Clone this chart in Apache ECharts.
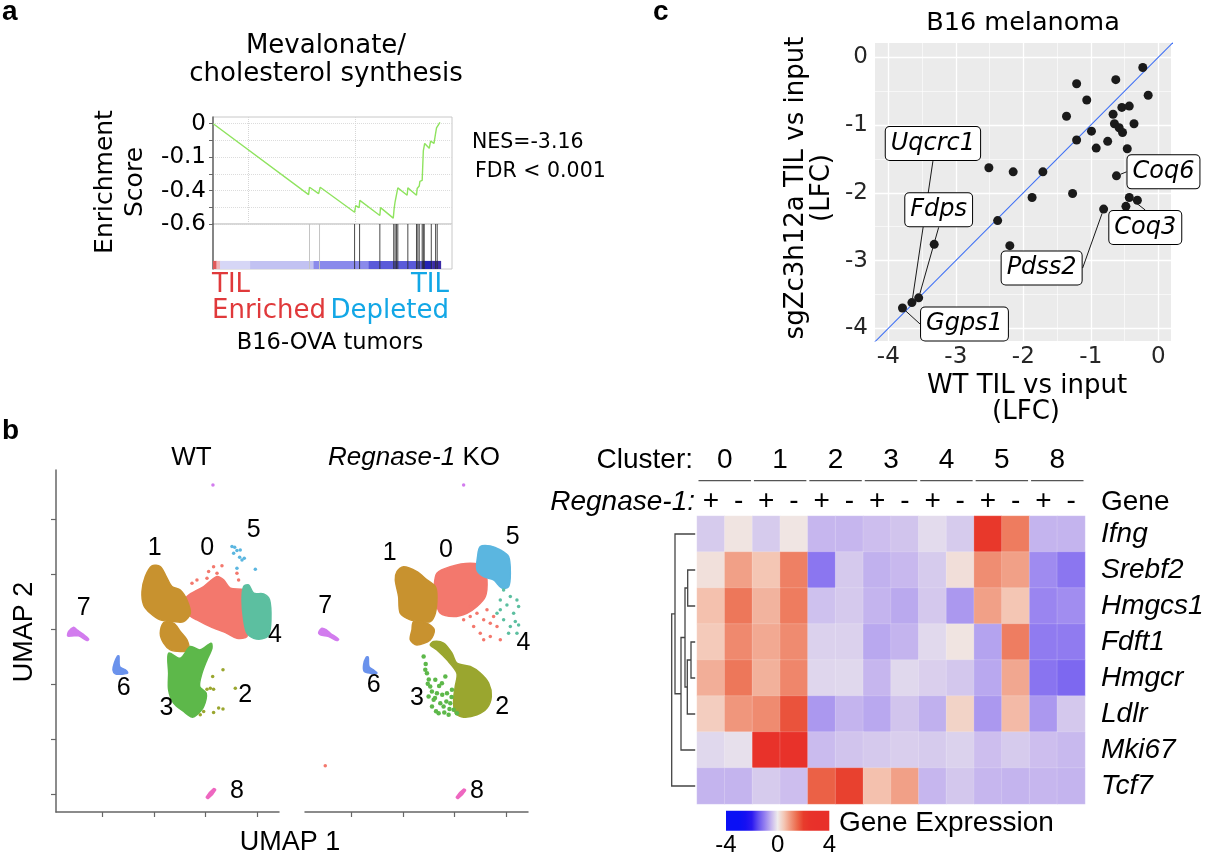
<!DOCTYPE html>
<html><head><meta charset="utf-8">
<script src="https://cdn.jsdelivr.net/npm/echarts@6/dist/echarts.min.js"></script>
<style>html,body{margin:0;padding:0;background:#fff}#c{width:1208px;height:856px}</style>
</head><body><div id="c"></div>
<script>
// ================= DATA =================
// Panel a : GSEA running enrichment score (gene rank in % of list, ES)
const esRank  = [0.1, 42.0, 42.4, 46.4, 47.1, 62.2, 62.7, 64.2, 64.5, 73.3, 73.6, 79.2, 79.6, 80.0, 81.2, 85.3, 85.6, 89.4, 89.7, 90.6, 90.9, 91.9, 92.4, 93.0, 95.0, 95.6, 97.1, 97.7, 98.2, 99.7];
const esScore = [0, -0.424, -0.38, -0.418, -0.38, -0.53, -0.49, -0.502, -0.459, -0.549, -0.502, -0.565, -0.506, -0.467, -0.384, -0.428, -0.384, -0.428, -0.388, -0.373, -0.345, -0.339, -0.163, -0.118, -0.147, -0.104, -0.118, -0.065, -0.025, 0.008];
const hitRanks = [42.4, 46.8, 62.2, 64.4, 73.3, 79.4, 80.0, 80.6, 81.2, 85.6, 89.4, 90.0, 90.6, 91.9, 92.4, 92.8, 95.9, 97.8, 98.5];
const rankBarBreaks = [0, 1.5, 3.1, 16.3, 44.2, 68.4, 91.9, 96.3, 100];
const rankBarColors = ['#e05a5a', '#efb6bb', '#d6d6f6', '#c2c2f2', '#8a8aeb', '#5a5ad9', '#2424b5', '#3a2aa5'];
const esTickValues = [0, -0.2, -0.4, -0.6];
const esTickLabels = ['0', '-0.1', '-0.4', '-0.6'];
const esGridRanks = [15.5, 62.6];

// Panel c : LFC scatter
const wtTilLFC = [-0.23,-0.15,-0.63,-1.21,-1.06,-1.36,-0.67,-0.54,-0.43,-0.65,-0.58,-0.53,-0.36,-0.99,-1.21,-0.75,-0.92,-0.46,-2.51,-2.15,-1.71,-0.62,-1.27,-1.87,-0.81,-0.43,-0.31,-0.48,-2.38,-2.20,-3.32,-3.55,-3.65,-3.79];
const sgTilLFC = [-0.15,-0.56,-0.33,-0.39,-0.63,-0.87,-0.84,-0.74,-0.72,-0.98,-1.04,-1.11,-0.98,-1.09,-1.22,-1.24,-1.34,-1.35,-1.63,-1.69,-1.69,-1.75,-2.01,-2.07,-2.24,-2.07,-2.11,-2.20,-2.41,-2.78,-2.76,-3.55,-3.62,-3.70];
const geneLabels = ['','','','','','','','','','','','','','','','','','','','','','Coq6','','','Pdss2','Coq3','','','','','','Fdps','Uqcrc1','Ggps1'];
const lfcTicks = [-4, -3, -2, -1, 0];
const lfcMinor = [-3.5, -2.5, -1.5, -0.5];

// Panel b : heatmap
const clusters = ['0','1','2','3','4','5','8'];
const regnaseStatus = ['+','-'];
const genes = ['Ifng','Srebf2','Hmgcs1','Fdft1','Hmgcr','Ldlr','Mki67','Tcf7'];
const exprIfng   = [-0.3, 0.1, -0.3, 0.08, -0.5, -0.5, -0.42, -0.37, -0.15, -0.3, 2.2, 1.3, -0.52, -0.52];
const exprSrebf2 = [0.15, 0.9, 0.5, 1.25, -1.1, -0.32, -0.55, -0.48, -0.3, 0.17, 1.1, 0.9, -0.9, -1.1];
const exprHmgcs1 = [0.55, 1.35, 0.7, 1.3, -0.4, -0.32, -0.52, -0.62, -0.33, -0.78, 0.9, 0.5, -0.95, -0.88];
const exprFdft1  = [0.45, 1.15, 0.8, 1.12, -0.25, -0.25, -0.63, -0.52, -0.17, 0.1, -0.68, 1.28, -1.05, -1.05];
const exprHmgcr  = [0.75, 1.35, 0.72, 1.18, -0.2, -0.18, -0.5, -0.18, -0.26, -0.34, -0.63, 0.82, -1.12, -1.25];
const exprLdlr   = [0.4, 1.0, 1.12, 1.75, -0.78, -0.52, -0.63, -0.37, -0.56, 0.33, -0.78, 0.62, -0.78, -0.33];
const exprMki67  = [-0.18, -0.1, 2.6, 2.6, -0.45, -0.37, -0.32, -0.27, -0.3, -0.24, -0.42, -0.3, -0.42, -0.47];
const exprTcf7   = [-0.52, -0.52, -0.3, -0.42, 1.6, 1.95, 0.55, 0.9, -0.5, -0.34, -0.5, -0.52, -0.5, -0.52];
const exprRows = [exprIfng, exprSrebf2, exprHmgcs1, exprFdft1, exprHmgcr, exprLdlr, exprMki67, exprTcf7];
const legendTicks = [-4, 0, 4];
// dendrogram (hclust style merge: negative = leaf row, positive = earlier merge)
const dendroMerge  = [[-2,-3],[-4,-5],[2,-6],[1,3],[4,-7],[-1,5],[6,-8]];
const dendroHeight = [8.3, 5, 8.7, 11, 15, 21, 24.3];

// Panel b : UMAP cluster outlines / sparse cells (UMAP units)
const wtC0 = [[-1.81,2.94],[-0.19,3.85],[1.10,4.76],[1.74,4.45],[2.39,3.70],[3.68,3.54],[4.0,2.94],[3.84,0.51],[4.0,-0.70],[3.03,-0.85],[2.06,-0.40],[0.45,0.21],[-0.84,0.82],[-1.65,1.27],[-1.97,2.18]];
const wtC0dots = [[0.77,5.66],[1.58,5.73],[0.29,5.21],[1.10,5.06],[-0.84,4.45],[-1.32,4.15],[3.03,5.06],[3.19,4.45],[1.58,3.85],[0.13,4.61]];
const wtC1 = [[-5.19,5.73],[-4.39,5.66],[-3.81,4.76],[-3.26,3.85],[-2.45,3.54],[-1.81,2.63],[-1.48,1.42],[-2.13,0.66],[-3.10,0.66],[-4.39,0.82],[-5.35,1.42],[-6.0,2.18],[-6.16,3.39],[-5.84,4.76]];
const wtC1b = [[-4.06,0.57],[-3.10,0.51],[-2.45,-0.24],[-1.81,-1.0],[-1.65,-1.91],[-2.45,-2.06],[-3.42,-1.91],[-4.06,-1.30],[-4.39,-0.40]];
const wtC2dots = [[1.68,-3.73],[0.68,-4.34],[0.45,-5.40],[0.77,-5.49],[2.87,-5.40],[-0.19,-7.52],[0.77,-7.61],[1.26,-7.21],[1.68,-7.30],[-0.52,-7.82],[0.13,-5.49]];
const wtC3 = [[-3.58,-2.21],[-2.45,-2.67],[-1.48,-1.61],[-0.52,-1.91],[0.52,-1.30],[0.61,-1.76],[0.13,-2.82],[-0.35,-4.03],[-0.58,-5.24],[0.06,-5.85],[-0.19,-7.06],[-0.84,-7.82],[-1.32,-8.03],[-2.13,-7.52],[-3.10,-6.76],[-3.58,-5.55],[-3.58,-4.03]];
const wtC4 = [[3.68,3.85],[4.16,4.0],[4.65,3.24],[5.61,3.18],[6.19,2.63],[6.32,0.82],[6.1,-0.55],[5.45,-0.91],[4.65,-0.85],[4.0,-0.40],[3.68,0.82],[3.52,2.63]];
const wtC5dots = [[2.55,7.48],[2.81,7.42],[3.03,7.12],[3.29,6.51],[3.74,6.42],[3.35,7.18],[2.71,6.88],[4.81,5.42],[3.03,5.51],[3.52,6.27]];
const wtC6 = [[-8.52,-2.46],[-8.39,-2.46],[-8.32,-3.43],[-7.77,-3.73],[-7.55,-4.03],[-8.10,-4.12],[-8.74,-4.09],[-8.97,-3.73],[-8.84,-3.12]];
const wtC7 = [[-13.26,-0.24],[-12.77,0.15],[-12.45,-0.09],[-11.97,-0.40],[-11.32,-0.94],[-11.48,-1.06],[-12.29,-0.64],[-12.94,-0.64],[-13.35,-0.64]];
const wtC7dots = [[0.71,13.09]];
const wtC8 = [[0.06,-15.30],[0.77,-14.52],[0.97,-14.64],[0.26,-15.43]];

const koC0 = [[-1.71,5.06],[-0.42,5.66],[1.51,5.97],[2.81,5.66],[3.13,4.45],[2.97,2.94],[2.16,2.03],[1.19,1.42],[-0.10,1.12],[-1.39,1.42],[-1.87,2.63],[-1.97,3.85]];
const koC0dots = [[1.51,2.03],[2.16,1.42],[2.81,0.82],[3.45,0.51],[4.10,0.21],[2.48,-0.40],[3.45,-0.70],[1.51,1.12],[0.87,0.82],[4.42,-1.0],[3.13,1.73],[3.77,1.12],[1.84,0.21],[2.81,-1.0],[-12.52,-12.46]];
const koC1 = [[-4.94,5.66],[-3.65,5.21],[-2.68,4.45],[-1.87,3.85],[-1.71,2.94],[-1.87,1.42],[-2.36,0.66],[-3.16,0.66],[-4.29,0.82],[-5.26,1.42],[-5.42,2.94],[-5.74,4.45],[-5.58,5.21]];
const koC1b = [[-3.97,0.66],[-2.68,0.51],[-1.97,-0.09],[-2.36,-1.0],[-3.65,-1.46],[-4.29,-1.0],[-4.13,-0.09]];
const koC2 = [[0.22,-3.12],[1.51,-3.43],[2.48,-4.03],[3.29,-4.94],[3.55,-6.15],[3.13,-7.21],[2.16,-7.82],[0.87,-8.03],[0.06,-7.67],[-0.10,-6.46],[0.06,-5.24],[0.22,-4.03],[-0.74,-2.82],[-1.71,-1.91],[-2.36,-1.46],[-2.03,-1.15],[-1.07,-1.30],[-0.26,-2.21]];
const koC3dots = [[-3.0,-2.52],[-2.84,-3.73],[-2.68,-4.03],[-2.36,-5.24],[-1.87,-4.64],[-1.71,-5.85],[-1.39,-6.76],[-1.07,-7.06],[-0.42,-6.76],[-0.10,-7.36],[-0.74,-5.85],[-1.23,-4.94],[-2.03,-6.46],[-1.55,-7.67],[-0.26,-5.55],[-0.90,-4.33],[-2.52,-6.15],[-0.58,-7.82],[0.22,-7.67],[-2.19,-7.06],[-2.8,-3.2],[-2.5,-4.6],[-2.2,-5.7],[-1.9,-6.3],[-1.5,-5.2],[-1.2,-6.0],[-0.8,-6.6],[-0.5,-7.3],[-1.8,-7.5],[-2.6,-5.0],[-0.3,-6.2],[-1.0,-7.6]];
const koC4dots = [[4.74,3.54],[5.39,2.94],[6.03,2.63],[6.19,2.03],[5.06,2.18],[4.42,1.73],[5.71,1.42],[5.87,0.66],[4.74,0.82],[5.39,0.21],[6.19,0.36],[5.22,-0.40],[4.42,2.63],[4.10,1.42],[6.03,-0.40]];
const koC5 = [[2.48,7.48],[3.45,7.54],[4.42,7.18],[5.22,6.57],[5.39,5.06],[5.22,3.85],[4.58,3.70],[3.77,4.45],[2.81,4.76],[2.16,5.36],[2.22,6.57]];
const koC6 = [[-8.55,-2.58],[-8.36,-2.58],[-8.29,-3.43],[-7.78,-3.79],[-7.52,-4.03],[-8.16,-4.03],[-8.74,-3.88],[-8.81,-3.27]];
const koC7 = [[-13.16,-0.34],[-12.84,0.06],[-12.42,-0.09],[-12.03,-0.40],[-11.23,-0.94],[-11.39,-1.06],[-12.19,-0.70],[-13.0,-0.55]];
const koC7dots = [[0.87,13.09]];
const koC8 = [[0.16,-15.30],[0.87,-14.58],[1.06,-14.70],[0.35,-15.43]];

const wtClusterLabels = [['1',-4.94,7.34],['0',0.14,7.34],['5',4.65,9.0],['7',-11.81,1.88],['4',6.7,-0.6],['6',-7.94,-5.39],['3',-3.80,-7.21],['2',3.84,-6.0],['8',3.04,-14.79]];
const koClusterLabels = [['1',-6.29,6.88],['0',-0.83,7.18],['5',5.63,8.39],['7',-12.52,2.03],['4',6.67,-1.3],['6',-7.84,-5.09],['3',-3.64,-6.3],['2',4.6,-7.12],['8',2.17,-14.79]];
const umapTicksX = [-10, -5, 0, 5];
const umapTicksY = [-15, -10, -5, 0, 5, 10];

// ================= STYLE / LAYOUT =================
const FA = 'DejaVu Sans', FH = 'Liberation Sans';
const clusterColors = ['#F3786D','#C8922F','#9AA62F','#5DB84A','#5CBFA0','#5BB6E0','#6A92EC','#D27CEE','#EE67C0'];
const exprColors = ['#0a10f5','#0a10f5','#0a10f5','#1510f2','#2a18f0','#6450f0','#9580f0','#c6b6ee','#efebec','#f4c6b4','#f0967c','#ec6a4c','#e83c2c','#e8322a','#e8302a','#e8302a','#e8302a'];
const labelOffsets = {Uqcrc1:[21,-159], Fdps:[20,-88], Ggps1:[62,16], Pdss2:[-62,59], Coq6:[47,-4], Coq3:[16,30]};

const chart = echarts.init(document.getElementById('c'), null, {width:1208, height:856});

const series = [];
// ---- panel a
series.push({type:'line', xAxisIndex:0, yAxisIndex:0, silent:true, symbol:'none', z:5,
  data: esRank.map((r,i)=>[r, esScore[i]]), lineStyle:{color:'#8fe35f', width:1.4},
  markLine:{silent:true, symbol:'none', z:1, label:{show:false}, lineStyle:{type:'dotted', color:'#d6d6d6', width:1},
    data: esGridRanks.map(r=>({xAxis:r}))}});
series.push({type:'custom', xAxisIndex:1, yAxisIndex:1, silent:true,
  data: rankBarColors.map((c,i)=>[rankBarBreaks[i], rankBarBreaks[i+1]]), encode:{x:[0,1]},
  renderItem:(p, api)=>{ const a=api.coord([api.value(0),0]); const b=api.coord([api.value(1),0.18]);
    return {type:'rect', shape:{x:a[0], y:b[1], width:b[0]-a[0]+0.5, height:a[1]-b[1]}, style:{fill:rankBarColors[p.dataIndex]}}; }});
series.push({type:'custom', xAxisIndex:1, yAxisIndex:1, silent:true, z:4,
  data: hitRanks.map(r=>[r]), encode:{x:0},
  renderItem:(p, api)=>{ const r=api.value(0); const a=api.coord([r,0]); const b=api.coord([r,1]);
    return {type:'line', shape:{x1:a[0],y1:a[1],x2:b[0],y2:b[1]}, style:{stroke:r<50?'#c4c4c4':'#2a2a2a', lineWidth:1, opacity:r<50?1:0.85}}; }});
// ---- panel c
const gridLines = [];
lfcTicks.forEach(v=>{ gridLines.push({xAxis:v, lineStyle:{color:'#fff', width:1.3, type:'solid'}}); gridLines.push({yAxis:v, lineStyle:{color:'#fff', width:1.3, type:'solid'}}); });
lfcMinor.forEach(v=>{ gridLines.push({xAxis:v, lineStyle:{color:'#fff', width:0.6, type:'solid'}}); gridLines.push({yAxis:v, lineStyle:{color:'#fff', width:0.6, type:'solid'}}); });
series.push({type:'line', xAxisIndex:2, yAxisIndex:2, silent:true, symbol:'none', data:[[-2,-2]], z:1,
  lineStyle:{opacity:0}, markLine:{silent:true, symbol:'none', z:1, label:{show:false}, lineStyle:{type:'solid'}, data:gridLines}});
series.push({type:'line', xAxisIndex:2, yAxisIndex:2, silent:true, symbol:'none', data:[[-4.5,-4.5],[0.5,0.5]], z:6,
  lineStyle:{color:'#3d6ff5', width:1.1}});
series.push({type:'scatter', xAxisIndex:2, yAxisIndex:2, silent:true, symbolSize:9, z:10,
  itemStyle:{color:'#1a1a1a', opacity:1},
  data: wtTilLFC.map((x,i)=>({value:[x, sgTilLFC[i]], name:geneLabels[i], label:{show:geneLabels[i]!==''}})),
  label:{show:false, position:'inside', formatter:'{b}', fontFamily:FA, fontStyle:'italic', fontSize:24, color:'#000',
    backgroundColor:'#fff', borderColor:'#000', borderWidth:1, borderRadius:4, padding:[5,5,4,5]},
  labelLine:{show:true, lineStyle:{color:'#000', width:0.9, opacity:1}},
  labelLayout:(params)=>{ const n=geneLabels[params.dataIndex]; if(!n) return {}; const o=labelOffsets[n]; return {dx:o[0], dy:o[1]}; }});
// ---- panel b umap
function polySeries(xi, yi, pts, color){
  return {type:'custom', xAxisIndex:xi, yAxisIndex:yi, silent:true, data:pts,
    renderItem:(p, api)=>{ if(p.dataIndex!==0) return null;
      return {type:'polygon', shape:{points:pts.map(q=>api.coord(q)), smooth:0.3}, style:{fill:color, stroke:color, lineWidth:1.5}}; }};
}
function dotSeries(xi, yi, pts, color, size){
  return {type:'scatter', xAxisIndex:xi, yAxisIndex:yi, silent:true, data:pts, symbolSize:size||3.5, itemStyle:{color:color, opacity:1}};
}
function labelSeries(xi, yi, labs){
  return {type:'scatter', xAxisIndex:xi, yAxisIndex:yi, silent:true, symbolSize:0, z:8,
    data: labs.map(l=>({value:[l[1],l[2]], name:l[0]})),
    label:{show:true, position:'inside', formatter:'{b}', fontFamily:FH, fontSize:25, color:'#000', opacity:1, textBorderWidth:0}};
}
const C = clusterColors;
series.push(polySeries(3,3,wtC0,C[0]), dotSeries(3,3,wtC0dots,C[0]), polySeries(3,3,wtC4,C[4]),
  polySeries(3,3,wtC1,C[1]), polySeries(3,3,wtC1b,C[1]), polySeries(3,3,wtC3,C[3]), dotSeries(3,3,wtC2dots,C[2]),
  dotSeries(3,3,wtC5dots,C[5]), polySeries(3,3,wtC6,C[6]), polySeries(3,3,wtC7,C[7]), dotSeries(3,3,wtC7dots,C[7]),
  polySeries(3,3,wtC8,C[8]), labelSeries(3,3,wtClusterLabels));
series.push(polySeries(4,4,koC0,C[0]), dotSeries(4,4,koC0dots,C[0]), polySeries(4,4,koC5,C[5]), dotSeries(4,4,koC4dots,C[4]),
  polySeries(4,4,koC1,C[1]), polySeries(4,4,koC1b,C[1]), dotSeries(4,4,koC3dots,C[3],4.5), polySeries(4,4,koC2,C[2]),
  polySeries(4,4,koC6,C[6]), polySeries(4,4,koC7,C[7]), dotSeries(4,4,koC7dots,C[7]),
  polySeries(4,4,koC8,C[8]), labelSeries(4,4,koClusterLabels));
// ---- panel b heatmap
const heatData = [];
exprRows.forEach((row, r)=>row.forEach((v, c)=>heatData.push([c, r, v])));
const heatIndex = series.length;
series.push({type:'heatmap', xAxisIndex:5, yAxisIndex:5, silent:true, data:heatData,
  itemStyle:{borderColor:'rgba(255,255,255,0.35)', borderWidth:0.5}, emphasis:{disabled:true}});
series.push({type:'custom', xAxisIndex:5, yAxisIndex:5, silent:true,
  data: clusters.map((c,k)=>[2*k, 0]),
  renderItem:(p, api)=>{ const c0=api.coord([api.value(0),0]); const w=api.size([1,0])[0]; const y=p.coordSys.y-35.4;
    return {type:'line', shape:{x1:c0[0]-w/2+1.5, y1:y, x2:c0[0]+w*1.5-1.5, y2:y}, style:{stroke:'#555', lineWidth:1.2}}; }});
const dNodes = [];
const leafH = 0.8;
const dPos = k => k<0 ? [-k-1, leafH] : dNodes[k-1];
const dendroLines = dendroMerge.map((m,i)=>{ const a=dPos(m[0]), b=dPos(m[1]), h=dendroHeight[i];
  dNodes.push([(a[0]+b[0])/2, h]); return {coords:[[a[1],a[0]],[h,a[0]],[h,b[0]],[b[1],b[0]]]}; });
series.push({type:'lines', coordinateSystem:'cartesian2d', xAxisIndex:7, yAxisIndex:6, polyline:true, silent:true,
  data:dendroLines, lineStyle:{color:'#444', width:1.3, opacity:1}});

// ---- graphics (titles / annotations)
function T(text, x, y, o){ o=o||{};
  return {type:'text', x:x, y:y, rotation:o.rot||0, silent:true, z:100,
    style:{text:text, fontFamily:o.ff||FH, fontSize:o.fs||26, fontWeight:o.fw||'normal', fontStyle:o.it?'italic':'normal',
      fill:o.c||'#000', align:o.al||'center', verticalAlign:'middle', rich:o.rich}}; }
const lgX=726, lgW=103.3, lgY=810.7, lgH=20;
const graphics = [
  T('a', 2, 12, {fs:28, fw:'bold', al:'left'}), T('b', 2, 431, {fs:28, fw:'bold', al:'left'}), T('c', 653, 12, {fs:28, fw:'bold', al:'left'}),
  T('Mevalonate/', 326, 46, {ff:FA}), T('cholesterol synthesis', 326, 74, {ff:FA}),
  T('Enrichment', 105, 182, {ff:FA, fs:25, rot:Math.PI/2}), T('Score', 135, 182, {ff:FA, fs:25, rot:Math.PI/2}),
  T('NES=-3.16', 472, 143, {ff:FA, fs:20.5, al:'left'}), T('FDR < 0.001', 475, 172, {ff:FA, fs:20.5, al:'left'}),
  T('TIL', 212, 285, {ff:FA, fs:26, al:'left', c:'#e0393b'}), T('TIL', 449, 285, {ff:FA, fs:26, al:'right', c:'#12a7e6'}),
  T('Enriched', 212, 311, {ff:FA, fs:26, al:'left', c:'#e0393b'}), T('Depleted', 449, 311, {ff:FA, fs:26, al:'right', c:'#12a7e6'}),
  T('B16-OVA tumors', 330, 343, {ff:FA, fs:22.5}),
  T('B16 melanoma', 1023, 23, {ff:FA, fs:25.5}),
  T('sgZc3h12a TIL vs input', 796, 188, {ff:FA, fs:26, rot:Math.PI/2}), T('(LFC)', 822, 188, {ff:FA, fs:26, rot:Math.PI/2}),
  T('WT TIL vs input', 1027, 386, {ff:FA, fs:26}), T('(LFC)', 1026, 412, {ff:FA, fs:26}),
  T('WT', 191.5, 458, {fs:26}),
  T('{i|Regnase-1} KO', 414, 458, {fs:26, rich:{i:{fontStyle:'italic', fontFamily:FH, fontSize:26}}}),
  T('UMAP 2', 25, 632, {fs:27, rot:Math.PI/2}), T('UMAP 1', 290, 843, {fs:27}),
  T('Cluster:', 693, 460, {fs:28, al:'right'}), T('Regnase-1:', 695, 502, {fs:28, al:'right', it:true}),
  T('Gene', 1101, 502, {fs:28, al:'left'}),
  {type:'rect', silent:true, shape:{x:lgX, y:lgY, width:lgW, height:lgH},
    style:{fill:new echarts.graphic.LinearGradient(0,0,1,0, exprColors.map((c,i)=>({offset:i/(exprColors.length-1), color:c})))}},
  T('Gene Expression', 839, 823, {fs:28, al:'left'})
];
legendTicks.forEach(v=>graphics.push(T(String(v), lgX + (v+4)/8*lgW, 845, {fs:24})));

const umapX = gi => ({gridIndex:gi, type:'value', min:-14.48, max:7.1,
  axisLine:{show:true, onZero:false, lineStyle:{color:'#666', width:1.5}},
  axisTick:{show:true, customValues:umapTicksX, length:5, lineStyle:{color:'#666', width:1.2}},
  axisLabel:{show:false}, splitLine:{show:false}});

const option = {
  animation:false,
  textStyle:{fontFamily:FH},
  grid:[
    {left:213, top:117, width:239, height:107, show:true, borderColor:'#c8c8c8', borderWidth:1},
    {left:213, top:224, width:239, height:45, show:true, borderColor:'#c8c8c8', borderWidth:1},
    {left:875, top:43, width:296, height:298, show:true, backgroundColor:'#ebebeb', borderWidth:0},
    {left:56, top:470, width:223, height:342},
    {left:305, top:470, width:223, height:342},
    {left:697, top:516, width:388, height:288},
    {left:671, top:516, width:25, height:288}
  ],
  xAxis:[
    {gridIndex:0, type:'value', min:0, max:105, axisLine:{show:false}, axisTick:{show:false}, axisLabel:{show:false}, splitLine:{show:false}},
    {gridIndex:1, type:'value', min:0, max:105, axisLine:{show:false}, axisTick:{show:false}, axisLabel:{show:false}, splitLine:{show:false}},
    {gridIndex:2, type:'value', min:-4.197, max:0.188, axisLine:{show:false},
      axisTick:{show:true, customValues:lfcTicks, length:4, lineStyle:{color:'#333'}},
      axisLabel:{customValues:lfcTicks, margin:5, fontFamily:FA, fontSize:23, color:'#262626'}, splitLine:{show:false}},
    umapX(3), umapX(4),
    {gridIndex:5, type:'category', data:clusters.flatMap(()=>regnaseStatus), position:'top',
      axisLine:{show:false}, axisTick:{show:false}, splitLine:{show:false},
      axisLabel:{interval:0, margin:1, fontFamily:FH, fontSize:28, color:'#000'}},
    {gridIndex:5, type:'category', data:clusters, position:'top', offset:42,
      axisLine:{show:false}, axisTick:{show:false}, splitLine:{show:false},
      axisLabel:{interval:0, margin:0, fontFamily:FH, fontSize:28, color:'#000'}},
    {gridIndex:6, type:'value', min:0, max:25, inverse:true, show:false}
  ],
  yAxis:[
    {gridIndex:0, type:'value', min:-0.6, max:0.04, interval:0.1,
      axisLine:{show:true, onZero:false, lineStyle:{color:'#666', width:1.5}},
      axisTick:{show:true, customValues:[0,-0.1,-0.2,-0.3,-0.4,-0.5,-0.6], length:4, lineStyle:{color:'#666'}},
      axisLabel:{customValues:esTickValues, formatter:v=>esTickLabels[esTickValues.indexOf(v)], margin:7, fontFamily:FA, fontSize:23, color:'#000'},
      splitLine:{show:true, lineStyle:{type:'dotted', color:'#dcdcdc'}}},
    {gridIndex:1, type:'value', min:0, max:1, axisLine:{show:true, onZero:false, lineStyle:{color:'#666', width:1.5}},
      axisTick:{show:false}, axisLabel:{show:false}, splitLine:{show:false}},
    {gridIndex:2, type:'value', min:-4.187, max:0.211, axisLine:{show:false},
      axisTick:{show:true, customValues:lfcTicks, length:4, lineStyle:{color:'#333'}},
      axisLabel:{customValues:lfcTicks, margin:7, fontFamily:FA, fontSize:23, color:'#262626'}, splitLine:{show:false}},
    {gridIndex:3, type:'value', min:-16.66, max:14.45,
      axisLine:{show:true, onZero:false, lineStyle:{color:'#666', width:1.5}},
      axisTick:{show:true, customValues:umapTicksY, length:5, lineStyle:{color:'#666', width:1.2}},
      axisLabel:{show:false}, splitLine:{show:false}},
    {gridIndex:4, type:'value', min:-16.66, max:14.45, show:false},
    {gridIndex:5, type:'category', data:genes, inverse:true, position:'right',
      axisLine:{show:false}, axisTick:{show:false}, splitLine:{show:false},
      axisLabel:{interval:0, margin:16, fontFamily:FH, fontSize:28, fontStyle:'italic', color:'#000'}},
    {gridIndex:6, type:'value', min:-0.5, max:7.5, inverse:true, show:false}
  ],
  visualMap:[{type:'continuous', show:false, min:-4, max:4, seriesIndex:heatIndex, dimension:2, inRange:{color:exprColors}}],
  series: series,
  graphic: graphics
};
chart.setOption(option);
</script>
</body></html>
